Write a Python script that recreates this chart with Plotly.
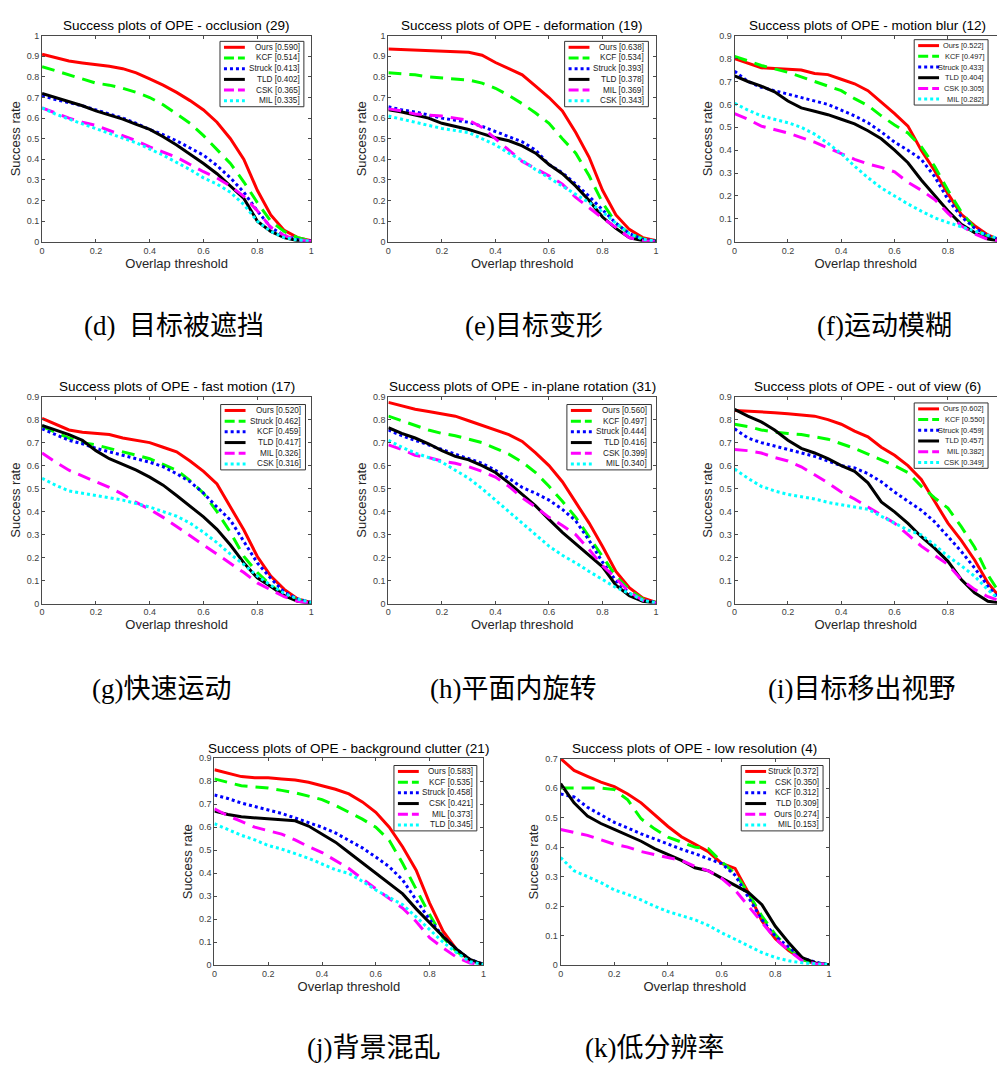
import plotly.graph_objects as go

# ---------------- data ----------------
THRESHOLDS = [0.0, 0.05, 0.1, 0.15, 0.2, 0.25, 0.3, 0.35, 0.4, 0.45, 0.5,
              0.55, 0.6, 0.65, 0.7, 0.75, 0.8, 0.85, 0.9, 0.95, 1.0]

# (d) occlusion
d_title = "Success plots of OPE - occlusion (29)"
d_caption = "(d)  目标被遮挡"
d_trackers = ["Ours", "KCF", "Struck", "TLD", "CSK", "MIL"]
d_scores = [0.590, 0.514, 0.413, 0.402, 0.365, 0.335]
d_ours = [0.91, 0.895, 0.877, 0.868, 0.86, 0.852, 0.84, 0.82, 0.79, 0.76, 0.725, 0.685, 0.64, 0.58, 0.50, 0.40, 0.25, 0.13, 0.055, 0.02, 0.005]
d_kcf = [0.85, 0.83, 0.81, 0.79, 0.77, 0.76, 0.745, 0.725, 0.70, 0.665, 0.62, 0.575, 0.515, 0.45, 0.38, 0.29, 0.19, 0.10, 0.05, 0.02, 0.005]
d_struck = [0.71, 0.69, 0.675, 0.66, 0.64, 0.62, 0.60, 0.575, 0.545, 0.52, 0.49, 0.455, 0.42, 0.37, 0.31, 0.24, 0.15, 0.07, 0.03, 0.01, 0.003]
d_tld = [0.72, 0.70, 0.68, 0.66, 0.635, 0.615, 0.595, 0.57, 0.545, 0.51, 0.47, 0.425, 0.38, 0.33, 0.27, 0.21, 0.10, 0.05, 0.02, 0.005, 0.002]
d_csk = [0.65, 0.625, 0.60, 0.58, 0.565, 0.54, 0.515, 0.49, 0.46, 0.435, 0.41, 0.375, 0.34, 0.31, 0.27, 0.22, 0.15, 0.07, 0.03, 0.01, 0.002]
d_mil = [0.65, 0.62, 0.595, 0.572, 0.55, 0.528, 0.505, 0.48, 0.45, 0.42, 0.385, 0.35, 0.31, 0.28, 0.24, 0.18, 0.10, 0.05, 0.02, 0.008, 0.002]

# (e) deformation
e_title = "Success plots of OPE - deformation (19)"
e_caption = "(e)目标变形"
e_trackers = ["Ours", "KCF", "Struck", "TLD", "MIL", "CSK"]
e_scores = [0.638, 0.534, 0.393, 0.378, 0.369, 0.343]
e_ours = [0.935, 0.932, 0.93, 0.927, 0.925, 0.923, 0.92, 0.905, 0.87, 0.84, 0.81, 0.755, 0.70, 0.635, 0.53, 0.41, 0.25, 0.13, 0.06, 0.02, 0.005]
e_kcf = [0.82, 0.815, 0.81, 0.80, 0.795, 0.79, 0.785, 0.77, 0.745, 0.71, 0.67, 0.625, 0.575, 0.50, 0.43, 0.32, 0.19, 0.09, 0.04, 0.015, 0.005]
e_struck = [0.655, 0.64, 0.63, 0.615, 0.60, 0.59, 0.58, 0.56, 0.535, 0.51, 0.485, 0.445, 0.375, 0.335, 0.28, 0.22, 0.155, 0.09, 0.04, 0.012, 0.003]
e_tld = [0.64, 0.63, 0.615, 0.60, 0.575, 0.56, 0.545, 0.525, 0.505, 0.49, 0.465, 0.43, 0.375, 0.33, 0.27, 0.20, 0.12, 0.065, 0.02, 0.005, 0.002]
e_mil = [0.645, 0.635, 0.62, 0.615, 0.61, 0.60, 0.59, 0.555, 0.50, 0.445, 0.39, 0.355, 0.32, 0.28, 0.215, 0.165, 0.115, 0.07, 0.02, 0.005, 0.002]
e_csk = [0.61, 0.595, 0.58, 0.565, 0.55, 0.54, 0.53, 0.50, 0.47, 0.43, 0.395, 0.35, 0.31, 0.27, 0.23, 0.19, 0.145, 0.09, 0.04, 0.012, 0.003]

# (f) motion blur
f_title = "Success plots of OPE - motion blur (12)"
f_caption = "(f)运动模糊"
f_trackers = ["Ours", "KCF", "Struck", "TLD", "CSK", "MIL"]
f_scores = [0.522, 0.497, 0.433, 0.404, 0.305, 0.282]
f_ours = [0.80, 0.78, 0.76, 0.757, 0.753, 0.75, 0.735, 0.73, 0.71, 0.69, 0.66, 0.61, 0.56, 0.505, 0.40, 0.31, 0.21, 0.12, 0.07, 0.03, 0.005]
f_kcf = [0.81, 0.79, 0.77, 0.755, 0.74, 0.72, 0.70, 0.68, 0.66, 0.625, 0.595, 0.55, 0.51, 0.475, 0.415, 0.33, 0.225, 0.13, 0.06, 0.02, 0.005]
f_struck = [0.745, 0.70, 0.675, 0.66, 0.645, 0.63, 0.615, 0.60, 0.575, 0.55, 0.52, 0.48, 0.435, 0.40, 0.36, 0.285, 0.185, 0.11, 0.06, 0.025, 0.008]
f_tld = [0.725, 0.70, 0.68, 0.655, 0.615, 0.585, 0.57, 0.555, 0.535, 0.515, 0.485, 0.45, 0.40, 0.345, 0.27, 0.20, 0.135, 0.076, 0.04, 0.012, 0.002]
f_csk = [0.56, 0.535, 0.505, 0.49, 0.475, 0.455, 0.435, 0.41, 0.385, 0.36, 0.34, 0.325, 0.305, 0.26, 0.225, 0.185, 0.125, 0.07, 0.035, 0.01, 0.002]
f_mil = [0.605, 0.575, 0.55, 0.535, 0.52, 0.50, 0.47, 0.43, 0.385, 0.33, 0.28, 0.235, 0.20, 0.165, 0.134, 0.105, 0.084, 0.065, 0.048, 0.03, 0.01]

# (g) fast motion
g_title = "Success plots of OPE - fast motion (17)"
g_caption = "(g)快速运动"
g_trackers = ["Ours", "Struck", "KCF", "TLD", "MIL", "CSK"]
g_scores = [0.520, 0.462, 0.459, 0.417, 0.326, 0.316]
g_ours = [0.805, 0.78, 0.755, 0.745, 0.74, 0.735, 0.72, 0.71, 0.70, 0.68, 0.66, 0.62, 0.575, 0.52, 0.42, 0.32, 0.205, 0.12, 0.062, 0.02, 0.005]
g_struck = [0.77, 0.745, 0.72, 0.70, 0.69, 0.675, 0.66, 0.645, 0.63, 0.605, 0.58, 0.535, 0.48, 0.40, 0.31, 0.205, 0.135, 0.08, 0.04, 0.015, 0.005]
g_kcf = [0.76, 0.735, 0.71, 0.695, 0.675, 0.66, 0.645, 0.63, 0.615, 0.595, 0.565, 0.53, 0.48, 0.42, 0.363, 0.27, 0.177, 0.11, 0.05, 0.02, 0.005]
g_tld = [0.775, 0.755, 0.735, 0.71, 0.665, 0.63, 0.605, 0.58, 0.55, 0.515, 0.47, 0.425, 0.377, 0.323, 0.255, 0.177, 0.112, 0.075, 0.035, 0.01, 0.002]
g_mil = [0.655, 0.615, 0.58, 0.555, 0.53, 0.505, 0.475, 0.44, 0.41, 0.375, 0.335, 0.295, 0.255, 0.215, 0.177, 0.135, 0.09, 0.06, 0.03, 0.01, 0.002]
g_csk = [0.545, 0.515, 0.49, 0.48, 0.47, 0.46, 0.45, 0.435, 0.42, 0.40, 0.38, 0.35, 0.31, 0.265, 0.215, 0.17, 0.12, 0.08, 0.045, 0.02, 0.005]

# (h) in-plane rotation
h_title = "Success plots of OPE - in-plane rotation (31)"
h_caption = "(h)平面内旋转"
h_trackers = ["Ours", "KCF", "Struck", "TLD", "CSK", "MIL"]
h_scores = [0.560, 0.497, 0.444, 0.416, 0.399, 0.340]
h_ours = [0.875, 0.86, 0.845, 0.835, 0.825, 0.815, 0.795, 0.775, 0.755, 0.735, 0.705, 0.655, 0.60, 0.53, 0.44, 0.35, 0.248, 0.14, 0.069, 0.025, 0.005]
h_kcf = [0.815, 0.795, 0.775, 0.755, 0.74, 0.73, 0.715, 0.70, 0.675, 0.65, 0.615, 0.57, 0.51, 0.445, 0.375, 0.29, 0.205, 0.12, 0.06, 0.02, 0.005]
h_struck = [0.755, 0.73, 0.71, 0.69, 0.67, 0.65, 0.63, 0.61, 0.58, 0.545, 0.505, 0.48, 0.45, 0.41, 0.36, 0.275, 0.18, 0.10, 0.045, 0.015, 0.005]
h_tld = [0.765, 0.74, 0.72, 0.695, 0.665, 0.64, 0.625, 0.60, 0.57, 0.525, 0.475, 0.425, 0.366, 0.31, 0.26, 0.21, 0.16, 0.08, 0.035, 0.01, 0.003]
h_csk = [0.69, 0.67, 0.645, 0.635, 0.62, 0.61, 0.595, 0.575, 0.55, 0.51, 0.46, 0.42, 0.375, 0.34, 0.30, 0.235, 0.165, 0.11, 0.05, 0.015, 0.003]
h_mil = [0.71, 0.68, 0.655, 0.635, 0.615, 0.58, 0.545, 0.50, 0.45, 0.40, 0.35, 0.30, 0.25, 0.21, 0.177, 0.14, 0.105, 0.07, 0.045, 0.015, 0.003]

# (i) out of view
i_title = "Success plots of OPE - out of view (6)"
i_caption = "(i)目标移出视野"
i_trackers = ["Ours", "KCF", "Struck", "TLD", "MIL", "CSK"]
i_scores = [0.602, 0.550, 0.459, 0.457, 0.382, 0.349]
i_ours = [0.84, 0.837, 0.835, 0.83, 0.825, 0.82, 0.815, 0.80, 0.78, 0.75, 0.725, 0.68, 0.645, 0.60, 0.54, 0.445, 0.35, 0.275, 0.19, 0.09, 0.02]
i_kcf = [0.78, 0.77, 0.755, 0.745, 0.74, 0.735, 0.725, 0.715, 0.695, 0.675, 0.65, 0.625, 0.60, 0.57, 0.51, 0.46, 0.415, 0.335, 0.245, 0.125, 0.035]
i_struck = [0.76, 0.72, 0.70, 0.685, 0.67, 0.655, 0.64, 0.62, 0.60, 0.59, 0.565, 0.53, 0.485, 0.445, 0.406, 0.356, 0.291, 0.227, 0.155, 0.076, 0.01]
i_tld = [0.845, 0.815, 0.79, 0.755, 0.71, 0.675, 0.655, 0.63, 0.60, 0.575, 0.525, 0.442, 0.399, 0.349, 0.291, 0.241, 0.184, 0.105, 0.047, 0.01, 0.002]
i_mil = [0.67, 0.665, 0.655, 0.635, 0.62, 0.595, 0.56, 0.525, 0.485, 0.455, 0.42, 0.385, 0.35, 0.30, 0.25, 0.21, 0.17, 0.105, 0.062, 0.03, 0.01]
i_csk = [0.585, 0.545, 0.51, 0.49, 0.475, 0.465, 0.455, 0.44, 0.43, 0.42, 0.41, 0.38, 0.35, 0.32, 0.299, 0.255, 0.206, 0.165, 0.119, 0.06, 0.01]

# (j) background clutter
j_title = "Success plots of OPE - background clutter (21)"
j_caption = "(j)背景混乱"
j_trackers = ["Ours", "KCF", "Struck", "CSK", "MIL", "TLD"]
j_scores = [0.583, 0.535, 0.458, 0.421, 0.373, 0.345]
j_ours = [0.85, 0.835, 0.82, 0.815, 0.815, 0.81, 0.805, 0.795, 0.78, 0.765, 0.745, 0.71, 0.665, 0.60, 0.514, 0.413, 0.27, 0.148, 0.069, 0.02, 0.005]
j_kcf = [0.81, 0.795, 0.78, 0.775, 0.77, 0.76, 0.75, 0.735, 0.72, 0.695, 0.665, 0.635, 0.60, 0.543, 0.442, 0.334, 0.22, 0.12, 0.06, 0.02, 0.005]
j_struck = [0.74, 0.725, 0.705, 0.69, 0.675, 0.66, 0.64, 0.62, 0.60, 0.575, 0.543, 0.51, 0.47, 0.428, 0.37, 0.284, 0.198, 0.126, 0.07, 0.025, 0.005]
j_csk = [0.67, 0.655, 0.645, 0.64, 0.635, 0.633, 0.628, 0.605, 0.57, 0.535, 0.49, 0.445, 0.40, 0.355, 0.31, 0.245, 0.185, 0.125, 0.07, 0.025, 0.003]
j_mil = [0.68, 0.65, 0.625, 0.60, 0.585, 0.57, 0.545, 0.515, 0.49, 0.455, 0.42, 0.375, 0.334, 0.29, 0.248, 0.19, 0.12, 0.075, 0.035, 0.01, 0.002]
j_tld = [0.615, 0.59, 0.565, 0.545, 0.52, 0.505, 0.485, 0.465, 0.44, 0.415, 0.399, 0.365, 0.327, 0.295, 0.263, 0.21, 0.155, 0.10, 0.055, 0.015, 0.003]

# (k) low resolution
k_title = "Success plots of OPE - low resolution (4)"
k_caption = "(k)低分辨率"
k_trackers = ["Struck", "CSK", "KCF", "TLD", "Ours", "MIL"]
k_scores = [0.372, 0.350, 0.312, 0.309, 0.274, 0.153]
k_struck = [0.70, 0.66, 0.64, 0.62, 0.605, 0.58, 0.55, 0.51, 0.47, 0.435, 0.41, 0.385, 0.345, 0.328, 0.245, 0.15, 0.09, 0.05, 0.02, 0.005, 0.002]
k_csk = [0.60, 0.60, 0.60, 0.60, 0.595, 0.56, 0.496, 0.462, 0.434, 0.417, 0.40, 0.395, 0.35, 0.311, 0.244, 0.166, 0.104, 0.055, 0.02, 0.005, 0.002]
k_kcf = [0.58, 0.57, 0.535, 0.51, 0.484, 0.465, 0.445, 0.428, 0.41, 0.393, 0.378, 0.36, 0.344, 0.305, 0.227, 0.154, 0.098, 0.06, 0.025, 0.01, 0.002]
k_tld = [0.615, 0.55, 0.505, 0.48, 0.46, 0.44, 0.42, 0.395, 0.375, 0.355, 0.33, 0.32, 0.295, 0.27, 0.246, 0.205, 0.132, 0.076, 0.026, 0.008, 0.002]
k_ours = [0.46, 0.45, 0.44, 0.425, 0.41, 0.40, 0.385, 0.375, 0.365, 0.355, 0.335, 0.32, 0.294, 0.255, 0.20, 0.143, 0.09, 0.05, 0.015, 0.005, 0.002]
k_mil = [0.365, 0.32, 0.30, 0.28, 0.255, 0.24, 0.221, 0.20, 0.182, 0.168, 0.154, 0.135, 0.11, 0.088, 0.065, 0.043, 0.026, 0.015, 0.008, 0.004, 0.002]

Y_MAX = [1.0, 1.0, 0.9, 0.9, 0.9, 0.9, 0.9, 0.7]

# ---------------- style ----------------
W, H = 1000, 1068
RANK_COLORS = ["#FF0000", "#00FF00", "#0000FF", "#000000", "#FF00FF", "#00FFFF"]
RANK_DASH = ["solid", "13px,8px", "3px,3px", "solid", "13px,8px", "3px,3px"]
LEGEND_DASH = ["solid", "10px,4px", "3px,3px", "solid", "10px,4px", "3px,3px"]
LINE_W = 3
SANS = "Liberation Sans, Arial, sans-serif"
CAPTION_FONT = "Liberation Serif, Noto Sans CJK SC, serif"
AXIS_COLOR = "#4a4a4a"

panels = [
    dict(title=d_title, caption=d_caption, names=d_trackers, scores=d_scores,
         curves=[d_ours, d_kcf, d_struck, d_tld, d_csk, d_mil]),
    dict(title=e_title, caption=e_caption, names=e_trackers, scores=e_scores,
         curves=[e_ours, e_kcf, e_struck, e_tld, e_mil, e_csk]),
    dict(title=f_title, caption=f_caption, names=f_trackers, scores=f_scores,
         curves=[f_ours, f_kcf, f_struck, f_tld, f_csk, f_mil]),
    dict(title=g_title, caption=g_caption, names=g_trackers, scores=g_scores,
         curves=[g_ours, g_struck, g_kcf, g_tld, g_mil, g_csk]),
    dict(title=h_title, caption=h_caption, names=h_trackers, scores=h_scores,
         curves=[h_ours, h_kcf, h_struck, h_tld, h_csk, h_mil]),
    dict(title=i_title, caption=i_caption, names=i_trackers, scores=i_scores,
         curves=[i_ours, i_kcf, i_struck, i_tld, i_mil, i_csk]),
    dict(title=j_title, caption=j_caption, names=j_trackers, scores=j_scores,
         curves=[j_ours, j_kcf, j_struck, j_csk, j_mil, j_tld]),
    dict(title=k_title, caption=k_caption, names=k_trackers, scores=k_scores,
         curves=[k_struck, k_csk, k_kcf, k_tld, k_ours, k_mil]),
]

# layout geometry in pixels: plot box (left, right-at-x=1, top, bottom)
BOXES = [(39.3, 310, 31, 239), (387.7, 657, 31, 239), (736, 1004.3, 31, 239),
         (39.3, 310, 395.3, 604.3), (387.7, 657, 395.3, 604.3), (736, 1004.3, 395.3, 604.3),
         (212.7, 483.3, 760.3, 969.3), (561, 831, 760.7, 969.3)]
# legend box (left, top, width, font size)
LEGENDS = [(218.3, 36.7, 84.4, 8.2), (565, 36.7, 84.3, 8.2), (916.7, 35, 74.3, 7.4),
           (219, 403.3, 85.3, 8.2), (567.3, 403.3, 85, 8.2), (916.7, 401.7, 74.3, 7.4),
           (393.3, 767.7, 83.4, 8.2), (742.7, 767.7, 82.3, 8.2)]
# caption centers
CAPTIONS = [(172, 324), (534, 324), (887, 324), (159, 690), (513, 690), (864, 690),
            (373, 1053), (655, 1053)]

fig = go.Figure()
layout_axes = {}
annotations = []
shapes = []

for k, p in enumerate(panels):
    sfx = "" if k == 0 else str(k + 1)
    xa, ya = "x" + sfx, "y" + sfx
    L, R, T, B = BOXES[k]
    vis_r = min(R, W)
    xmax = (vis_r - L) / (R - L)
    cropped = R > W

    for rank, (name, score, vals) in enumerate(zip(p["names"], p["scores"], p["curves"])):
        fig.add_trace(go.Scatter(
            x=THRESHOLDS, y=vals, mode="lines", xaxis=xa, yaxis=ya,
            name=f"{name} [{score:.3f}]", showlegend=False,
            line=dict(color=RANK_COLORS[rank], width=LINE_W, dash=RANK_DASH[rank]),
        ))

    common = dict(showline=True, linecolor=AXIS_COLOR, linewidth=1, showgrid=False,
                  zeroline=False, ticks="inside", ticklen=3, tickcolor=AXIS_COLOR,
                  tickfont=dict(family=SANS, size=9, color="#404040"))
    layout_axes["xaxis" + sfx] = dict(
        common, domain=[L / W, vis_r / W], range=[0, xmax], dtick=0.2, tick0=0,
        anchor=ya, mirror="ticks",
        title=dict(text="Overlap threshold", font=dict(family=SANS, size=13, color="#262626"),
                   standoff=3),
    )
    layout_axes["yaxis" + sfx] = dict(
        common, domain=[1 - B / H, 1 - T / H], range=[0, Y_MAX[k]], dtick=0.1, tick0=0,
        anchor=xa, mirror=False if cropped else "ticks",
        title=dict(text="Success rate", font=dict(family=SANS, size=13, color="#262626"),
                   standoff=3),
    )

    # subplot title
    annotations.append(dict(
        text=p["title"], xref=xa, x=0.5, yref=ya + " domain", y=1, yanchor="middle",
        yshift=10, showarrow=False, font=dict(family=SANS, size=13.5, color="black")))

    # custom legend box
    lx, ly, lw, lfs = LEGENDS[k]
    lh = 66
    shapes.append(dict(type="rect", xref="paper", yref="paper", layer="above",
                       x0=lx / W, x1=(lx + lw) / W, y0=1 - (ly + lh) / H, y1=1 - ly / H,
                       line=dict(color="#333333", width=1), fillcolor="white"))
    for rank, (name, score) in enumerate(zip(p["names"], p["scores"])):
        ry = ly + 6 + rank * 10.8
        shapes.append(dict(type="line", xref="paper", yref="paper", layer="above",
                           x0=(lx + 4) / W, x1=(lx + 25) / W, y0=1 - ry / H, y1=1 - ry / H,
                           line=dict(color=RANK_COLORS[rank], width=LINE_W, dash=LEGEND_DASH[rank])))
        annotations.append(dict(
            text=f"{name} [{score:.3f}]", xref="paper", yref="paper",
            x=(lx + lw - 3) / W, y=1 - ry / H, xanchor="right", yanchor="middle",
            showarrow=False, borderpad=0,
            font=dict(family=SANS, size=lfs, color="#222222")))

    # caption below the panel
    cx, cy = CAPTIONS[k]
    annotations.append(dict(
        text=p["caption"], xref="paper", yref="paper", x=cx / W, y=1 - cy / H,
        xanchor="center", yanchor="middle", showarrow=False,
        font=dict(family=CAPTION_FONT, size=27, color="black")))

fig.update_layout(
    width=W, height=H, margin=dict(l=0, r=0, t=0, b=0),
    paper_bgcolor="white", plot_bgcolor="white", showlegend=False,
    annotations=annotations, shapes=shapes, **layout_axes,
)

fig.write_html("out.html")
